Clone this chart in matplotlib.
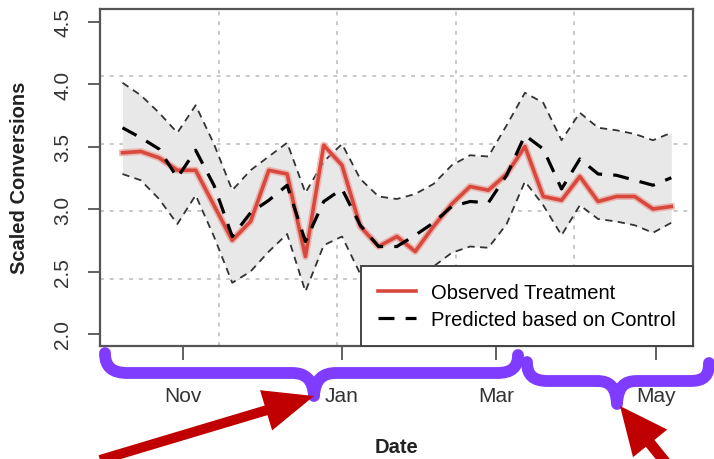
import numpy as np
import pandas as pd
import matplotlib
matplotlib.use("Agg")
import matplotlib.pyplot as plt
import matplotlib.dates as mdates
from matplotlib.path import Path
from matplotlib.patches import PathPatch, FancyArrow

plt.rcParams['font.family'] = ['Liberation Sans', 'DejaVu Sans']

# weekly dates, Oct 2016 - May 2017
dates = pd.date_range('2016-10-09', periods=31, freq='7D')

observed = [3.45, 3.46, 3.41, 3.31, 3.31, 3.03, 2.75, 2.90, 3.31, 3.28, 2.62,
            3.51, 3.35, 2.86, 2.70, 2.78, 2.66, 2.86, 3.04, 3.18, 3.15, 3.28,
            3.50, 3.10, 3.07, 3.26, 3.06, 3.10, 3.10, 3.00, 3.02]
predicted = [3.65, 3.57, 3.48, 3.25, 3.47, 3.19, 2.78, 2.97, 3.07, 3.19, 2.74,
             3.06, 3.16, 2.87, 2.70, 2.70, 2.79, 2.89, 3.02, 3.06, 3.05, 3.27,
             3.59, 3.48, 3.16, 3.40, 3.28, 3.27, 3.23, 3.19, 3.25]
upper = [4.01, 3.91, 3.77, 3.61, 3.83, 3.52, 3.15, 3.31, 3.42, 3.53, 3.13,
         3.38, 3.52, 3.24, 3.10, 3.08, 3.12, 3.20, 3.35, 3.43, 3.42, 3.67,
         3.93, 3.85, 3.55, 3.77, 3.65, 3.63, 3.60, 3.55, 3.61]
lower = [3.28, 3.23, 3.08, 2.88, 3.11, 2.78, 2.41, 2.50, 2.66, 2.80, 2.34,
         2.71, 2.78, 2.48, 2.33, 2.32, 2.42, 2.54, 2.65, 2.70, 2.69, 2.88,
         3.22, 3.03, 2.79, 3.03, 2.92, 2.90, 2.87, 2.81, 2.89]

month_ticks = pd.to_datetime(['2016-11-01', '2017-01-01', '2017-03-01', '2017-05-01'])
month_labels = ['Nov', 'Jan', 'Mar', 'May']
y_ticks = [2.0, 2.5, 3.0, 3.5, 4.0, 4.5]
y_labels = ['2.0', '2.5', '3.0', '3.5', '4.0', '4.5']

W, H = 714, 460
fig = plt.figure(figsize=(W / 100, H / 100), dpi=100)
ax = fig.add_axes([100 / W, 1 - 347 / H, 593 / W, 337 / H])

x = mdates.date2num(dates)
xlim = (mdates.date2num(pd.Timestamp('2016-10-01')) - 0.6,
        mdates.date2num(pd.Timestamp('2017-05-15')) + 0.3)
ylim = (1.904, 4.60)
ax.set_xlim(xlim)
ax.set_ylim(ylim)

# R style grid: equal divisions of the plot region
for f in [0.2, 0.4, 0.6, 0.8]:
    ax.plot([f, f], [0, 1], transform=ax.transAxes, color='#c8c8c8',
            lw=1.4, dashes=(2, 3), zorder=0)
    ax.plot([0, 1], [f, f], transform=ax.transAxes, color='#c8c8c8',
            lw=1.4, dashes=(2, 3), zorder=0)

ax.fill_between(x, lower, upper, color='#e8e8e8', zorder=1, lw=0)
ax.plot(x, upper, color='#333333', lw=1.3, dashes=(4, 3), zorder=2)
ax.plot(x, lower, color='#333333', lw=1.3, dashes=(4, 3), zorder=2)
ax.plot(x, observed, color='#e8938a', lw=5, alpha=0.6, zorder=3,
        solid_joinstyle='round')
ax.plot(x, observed, color='#d9483d', lw=2.6, zorder=4,
        solid_joinstyle='round', label='Observed Treatment')
ax.plot(x, predicted, color='black', lw=2.3, dashes=(5, 3.5), zorder=5,
        label='Predicted based on Control')

ax.set_xticks(mdates.date2num(month_ticks))
ax.set_xticklabels(month_labels)
ax.set_yticks(y_ticks)
ax.set_yticklabels(y_labels, rotation=90, va='center')
ax.tick_params(axis='x', length=10, width=1.3, color='#555555', pad=19,
               labelsize=15, labelcolor='#333333')
ax.tick_params(axis='y', length=9, width=1.3, color='#555555', pad=11,
               labelsize=15, labelcolor='#333333')
for s in ax.spines.values():
    s.set_color('#555555')
    s.set_linewidth(1.6)

leg = ax.legend(loc='lower right', bbox_to_anchor=(1.0, 0.0), borderaxespad=0,
                fancybox=False, framealpha=1, edgecolor='#444444',
                prop={'size': 14.5}, handlelength=1.9, labelspacing=0.4,
                borderpad=0.85, handletextpad=0.75)
leg.get_frame().set_linewidth(1.4)
leg.set_zorder(20)

fig.text(20 / W, 1 - 178 / H, 'Scaled Conversions', rotation=90, ha='center',
         va='center', fontsize=14.5, fontweight='bold', color='#222222')
fig.text(396 / W, 1 - 448 / H, 'Date', ha='center', va='center',
         fontsize=14.5, fontweight='bold', color='#222222')

# overlay in pixel coordinates for the braces and arrows
ov = fig.add_axes([0, 0, 1, 1])
ov.set_xlim(0, W)
ov.set_ylim(H, 0)
ov.axis('off')

purple = '#7f3cff'
C = Path.CURVE4
brace1 = Path([(105, 354), (105, 368), (112, 374), (128, 374),
               (292, 374), (305, 374), (313, 380), (314, 397),
               (315, 380), (323, 374), (336, 374),
               (497, 374), (512, 374), (518, 368), (518, 356)],
              [Path.MOVETO, C, C, C, Path.LINETO, C, C, C, C, C, C,
               Path.LINETO, C, C, C])
brace2 = Path([(527, 363), (527, 376), (533, 382), (548, 382),
               (597, 382), (610, 382), (616, 388), (617, 405),
               (618, 388), (624, 382), (637, 382),
               (690, 382), (705, 382), (709, 376), (709, 364)],
              [Path.MOVETO, C, C, C, Path.LINETO, C, C, C, C, C, C,
               Path.LINETO, C, C, C])
for p in [brace1, brace2]:
    ov.add_patch(PathPatch(p, facecolor='none', edgecolor=purple, lw=8.5,
                           capstyle='round', joinstyle='round'))

red = '#c00000'
ov.add_patch(FancyArrow(100, 461, 214, -64, width=10, head_width=42,
                        head_length=50, length_includes_head=True,
                        color=red, lw=0))
ov.add_patch(FancyArrow(695, 500, -75, -93, width=11, head_width=44,
                        head_length=48, length_includes_head=True,
                        color=red, lw=0))

plt.savefig('out.png', dpi=100)
